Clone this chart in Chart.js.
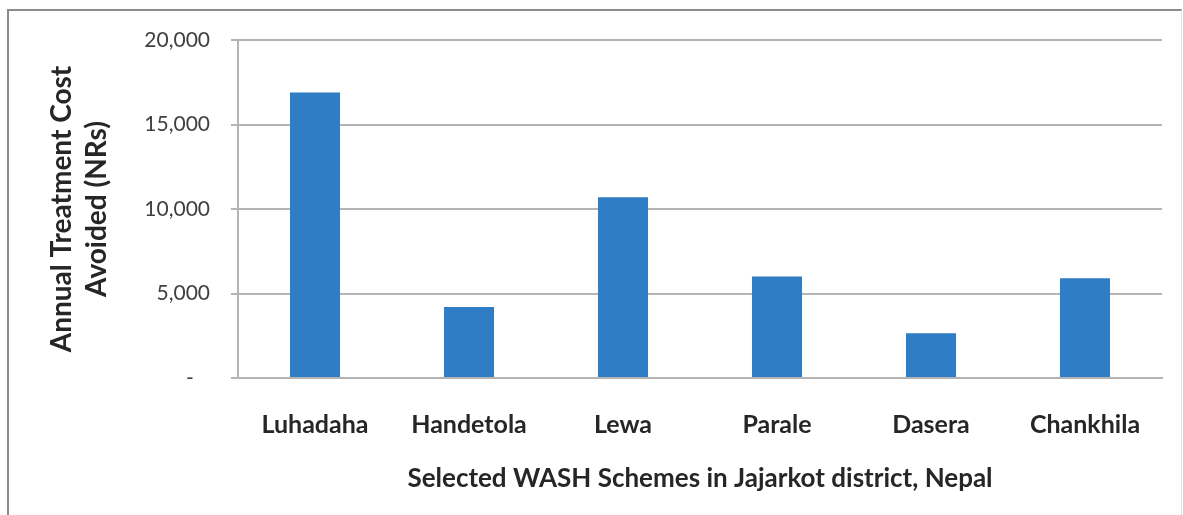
<!DOCTYPE html>
<html>
<head>
<meta charset="utf-8">
<script src="https://cdn.jsdelivr.net/npm/chart.js@4"></script>
<style>
  html, body { margin: 0; padding: 0; background: #fff; }
  #wrap { position: relative; width: 1183px; height: 515px; overflow: hidden; }
  #frame { position: absolute; left: 7px; top: 9px; width: 1172px; height: 520px;
           border-top: 2px solid #8c8c8c; border-left: 2px solid #8c8c8c; border-right: 1px solid #e0e0e0; }
  canvas { position: absolute; left: 0; top: 0; }
</style>
</head>
<body>
<div id="wrap">
  <div id="frame"></div>
  <canvas id="c" width="1183" height="515"></canvas>
</div>
<script>
const categories = ["Luhadaha", "Handetola", "Lewa", "Parale", "Dasera", "Chankhila"];
const costAvoided = [16900, 4200, 10700, 6000, 2650, 5900];
const yTicks = [0, 5000, 10000, 15000, 20000];
const yTitle = ["Annual Treatment Cost", "Avoided (NRs)"];
const xTitle = "Selected WASH Schemes in Jajarkot district, Nepal";

const FONT = "Lato, 'Open Sans', sans-serif";

new Chart(document.getElementById('c'), {
  type: 'bar',
  data: {
    labels: categories,
    datasets: [{
      data: costAvoided,
      backgroundColor: '#2F7DC4',
      borderWidth: 0,
      barPercentage: 0.65,
      categoryPercentage: 0.5
    }]
  },
  options: {
    responsive: false,
    animation: false,
    devicePixelRatio: 1,
    layout: { padding: { top: 40, right: 21, left: 0, bottom: 0 } },
    plugins: { legend: { display: false }, tooltip: { enabled: false } },
    scales: {
      x: {
        grid: { display: false, drawTicks: false },
        border: { display: true, color: '#b4b4b4', width: 2 },
        ticks: { padding: 32, color: '#262626', font: { family: FONT, size: 25, weight: 'bold' } },
        title: { display: true, text: xTitle, color: '#262626',
                 font: { family: FONT, size: 26, weight: 'bold' }, padding: { top: 0, bottom: 21 } },
        afterFit: s => { s.height = 137; }
      },
      y: {
        min: 0, max: 20000,
        afterBuildTicks: s => { s.ticks = yTicks.map(v => ({ value: v })); },
        grid: { color: '#b4b4b4', lineWidth: 2, tickLength: 7, drawTicks: true },
        border: { display: true, color: '#b4b4b4', width: 2 },
        ticks: {
          padding: 21, color: '#404040', font: { family: FONT, size: 21 },
          callback: v => v === 0 ? '-   ' : v.toLocaleString('en-US')
        },
        title: { display: true, text: yTitle, color: '#262626',
                 font: { family: FONT, size: 28, weight: 'bold', lineHeight: 1.25 }, padding: { top: 44, bottom: 0 } },
        afterFit: s => { s.width = 238; }
      }
    }
  }
});
</script>
</body>
</html>
